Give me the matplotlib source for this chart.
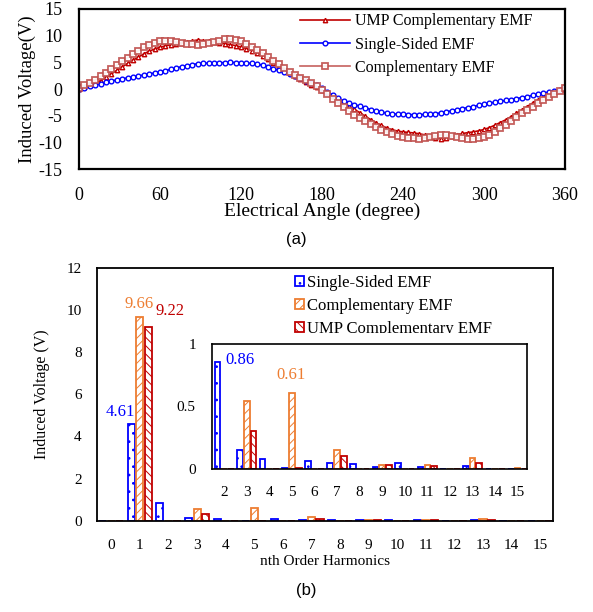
import numpy as np
import matplotlib
matplotlib.use("Agg")
from matplotlib import pyplot as plt
from matplotlib.patches import Rectangle

plt.rcParams['font.family'] = ['Liberation Serif', 'DejaVu Serif']
plt.rcParams['hatch.linewidth'] = 0.7
plt.rcParams['axes.unicode_minus'] = False

# (a) back EMF over one electrical period, sampled every 4 degrees
angle = np.arange(0, 361, 4)
emf_single = [0.0, 0.3, 0.55, 0.8, 1.05, 1.28, 1.52, 1.72, 1.92, 2.1,
              2.28, 2.46, 2.65, 2.85, 3.02, 3.22, 3.45, 3.7, 3.95, 4.2,
              4.4, 4.6, 4.75, 4.82, 4.88, 4.92, 4.95, 4.98, 5.0, 4.98,
              4.95, 4.88, 4.8, 4.65, 4.48, 4.2, 3.85, 3.5, 3.15, 2.78,
              2.4, 2.0, 1.6, 1.2, 0.72, 0.15, -0.45, -1.1, -1.7, -2.15,
              -2.55, -2.9, -3.2, -3.5, -3.82, -4.08, -4.3, -4.5, -4.62, -4.7,
              -4.74, -4.76, -4.77, -4.77, -4.74, -4.7, -4.6, -4.45, -4.25, -4.05,
              -3.85, -3.65, -3.45, -3.25, -3.05, -2.82, -2.62, -2.45, -2.28, -2.12,
              -1.95, -1.78, -1.58, -1.38, -1.18, -0.96, -0.75, -0.55, -0.35, -0.1,
              0.2]
emf_comp = [0.2, 0.7, 1.2, 1.75, 2.4, 3.1, 3.8, 4.5, 5.2, 5.9,
            6.55, 7.2, 7.8, 8.3, 8.7, 8.95, 9.05, 9.0, 8.85, 8.65,
            8.5, 8.4, 8.35, 8.42, 8.6, 8.85, 9.1, 9.3, 9.35, 9.25,
            8.95, 8.5, 7.95, 7.35, 6.75, 6.05, 5.35, 4.65, 3.95, 3.3,
            2.7, 2.15, 1.65, 1.15, 0.55, -0.1, -0.9, -1.8, -2.65, -3.4,
            -4.15, -4.8, -5.4, -6.0, -6.6, -7.15, -7.65, -8.1, -8.45, -8.75,
            -8.95, -9.1, -9.2, -9.25, -9.2, -9.0, -8.75, -8.6, -8.6, -8.72,
            -8.9, -9.1, -9.25, -9.3, -9.2, -8.95, -8.5, -7.95, -7.35, -6.75,
            -6.05, -5.3, -4.55, -3.95, -3.3, -2.65, -2.05, -1.5, -0.95, -0.4,
            0.2]
emf_ump = [0.0, 0.35, 0.7, 1.1, 1.6, 2.2, 2.85, 3.5, 4.15, 4.8,
           5.4, 6.0, 6.6, 7.1, 7.5, 7.85, 8.1, 8.3, 8.5, 8.7,
           8.85, 9.05, 9.2, 9.1, 8.95, 8.8, 8.65, 8.5, 8.35, 8.15,
           7.9, 7.6, 7.2, 6.7, 6.15, 5.55, 4.9, 4.3, 3.65, 3.0,
           2.4, 1.85, 1.3, 0.8, 0.35, -0.1, -0.7, -1.35, -2.0, -2.6,
           -3.2, -3.8, -4.4, -5.05, -5.7, -6.3, -6.8, -7.25, -7.6, -7.85,
           -8.0, -8.1, -8.2, -8.35, -8.55, -8.8, -9.1, -9.3, -9.1, -8.8,
           -8.5, -8.3, -8.15, -8.0, -7.8, -7.55, -7.2, -6.75, -6.25, -5.75,
           -5.15, -4.5, -3.9, -3.25, -2.6, -2.0, -1.5, -1.05, -0.6, -0.25,
           0.1]

# (b) harmonic spectrum
harmonics = np.arange(16)
h_single = [0.0, 4.61, 0.86, 0.15, 0.08, 0.005, 0.06, 0.048, 0.037, 0.016,
            0.048, 0.013, 0.003, 0.02, 0.003, 0.003]
h_comp = [0.0, 9.66, 0.0, 0.54, 0.0, 0.61, 0.0, 0.155, 0.0, 0.035,
          0.0, 0.03, 0.0, 0.085, 0.0, 0.005]
h_ump = [0.0, 9.22, 0.0, 0.30, 0.0, 0.005, 0.0, 0.10, 0.0, 0.032,
         0.0, 0.025, 0.0, 0.05, 0.0, 0.0]

BLUE = '#0000FF'
ORANGE = '#ED7D31'
RED = '#C00000'
ROSE = '#C0504D'

fig = plt.figure(figsize=(5.93, 6.12), dpi=100)

# ---------- (a) ----------
ax1 = fig.add_axes([0.1332, 0.7234, 0.8196, 0.2619])
ax1.plot(angle, emf_ump, color=RED, lw=1.2, marker='^', ms=3.2,
         mfc='white', mec=RED, mew=1.0, label='UMP Complementary EMF')
ax1.plot(angle, emf_single, color=BLUE, lw=1.2, marker='o', ms=3.4,
         mfc='white', mec=BLUE, mew=1.0, label='Single-Sided EMF')
ax1.plot(angle, emf_comp, color=ROSE, lw=1.2, marker='s', ms=4.0,
         mfc='white', mec=ROSE, mew=1.3, alpha=0.9, label='Complementary EMF')
ax1.set_xlim(0, 360)
ax1.set_ylim(-15, 15)
ax1.set_xticks(range(0, 361, 60))
ax1.set_yticks(range(-15, 16, 5))
ax1.tick_params(length=0, labelsize=13)
ax1.tick_params(axis='x', pad=13)
ax1.tick_params(axis='y', pad=12)
for s in ax1.spines.values():
    s.set_linewidth(1.6)
ax1.set_xlabel('Electrical Angle (degree)', fontsize=14, labelpad=-1)
ax1.set_ylabel('Induced Voltage(V)', fontsize=13.5, labelpad=2)
ax1.legend(loc='upper left', bbox_to_anchor=(0.506, 0.978),
           bbox_transform=fig.transFigure, frameon=False, fontsize=11.5,
           handlelength=3.1, handletextpad=0.35, labelspacing=0.45,
           borderpad=0, borderaxespad=0)
fig.text(0.5, 1 - 240 / 612, '(a)', family='Liberation Sans', fontsize=12,
         ha='center', va='center')

# ---------- (b) ----------
w = 0.25
ax2 = fig.add_axes([0.1636, 0.1492, 0.769, 0.4129])


def draw_bars(ax, idx):
    x = harmonics[idx]
    ax.bar(x - 0.3, np.array(h_single)[idx], w, color='white', edgecolor=BLUE,
           hatch='..', lw=1.3, label='Single-Sided EMF')
    ax.bar(x, np.array(h_comp)[idx], w, color='white', edgecolor=ORANGE,
           hatch='////', lw=1.3, label='Complementary EMF')
    ax.bar(x + 0.3, np.array(h_ump)[idx], w, color='white', edgecolor=RED,
           hatch='\\\\\\\\', lw=1.3, label='UMP Complementary EMF')


draw_bars(ax2, slice(0, 16))
ax2.set_xlim(-0.5, 15.45)
ax2.set_ylim(0, 12)
ax2.set_xticks(harmonics)
ax2.set_yticks(range(0, 13, 2))
ax2.tick_params(length=0, labelsize=11)
ax2.tick_params(axis='x', pad=13)
ax2.tick_params(axis='y', pad=11)
for s in ax2.spines.values():
    s.set_linewidth(1.3)
ax2.set_xlabel('nth Order Harmonics', fontsize=11, labelpad=2)
ax2.set_ylabel('Induced Voltage (V)', fontsize=11.5, labelpad=12)
ax2.text(1 - 0.7, h_single[1] + 0.15, f'{h_single[1]:.2f}', color=BLUE,
         fontsize=12, ha='center', va='bottom')
ax2.text(1 - 0.03, h_comp[1] + 0.25, f'{h_comp[1]:.2f}', color=ORANGE,
         fontsize=12, ha='center', va='bottom')
ax2.text(1 + 1.05, h_ump[1] + 0.35, f'{h_ump[1]:.2f}', color=RED,
         fontsize=12, ha='center', va='bottom')
ax2.legend(loc='upper left', bbox_to_anchor=(0.497, 0.551),
           bbox_transform=fig.transFigure, frameon=False, fontsize=12,
           handlelength=0.55, handleheight=0.55, handletextpad=0.2,
           labelspacing=0.42, borderpad=0, borderaxespad=0)

# blank strip above the zoomed view, it sits over the legend
fig.patches.append(Rectangle((0.358, 0.4379), 0.53, 0.018,
                             transform=fig.transFigure, facecolor='white',
                             edgecolor='none', zorder=1))

ax3 = fig.add_axes([0.3583, 0.2337, 0.5299, 0.2042])
ax3.set_zorder(2)
draw_bars(ax3, slice(2, 16))
ax3.set_xlim(1.48, 15.4)
ax3.set_ylim(0, 1)
ax3.set_xticks(harmonics[2:])
ax3.set_yticks([0, 0.5, 1])
ax3.set_yticklabels(['0', '0.5', '1'])
ax3.tick_params(length=0, labelsize=11)
ax3.tick_params(axis='x', pad=12)
ax3.tick_params(axis='y', pad=12)
for s in ax3.spines.values():
    s.set_linewidth(1.2)
ax3.text(2 + 0.7, h_single[2] - 0.05, f'{h_single[2]:.2f}', color=BLUE,
         fontsize=12, ha='center', va='bottom')
ax3.text(5 - 0.05, h_comp[5] + 0.08, f'{h_comp[5]:.2f}', color=ORANGE,
         fontsize=12, ha='center', va='bottom')

fig.text(306 / 593, 1 - 590 / 612, '(b)', family='Liberation Sans', fontsize=12,
         ha='center', va='center')

fig.savefig('out.png', dpi=100)
